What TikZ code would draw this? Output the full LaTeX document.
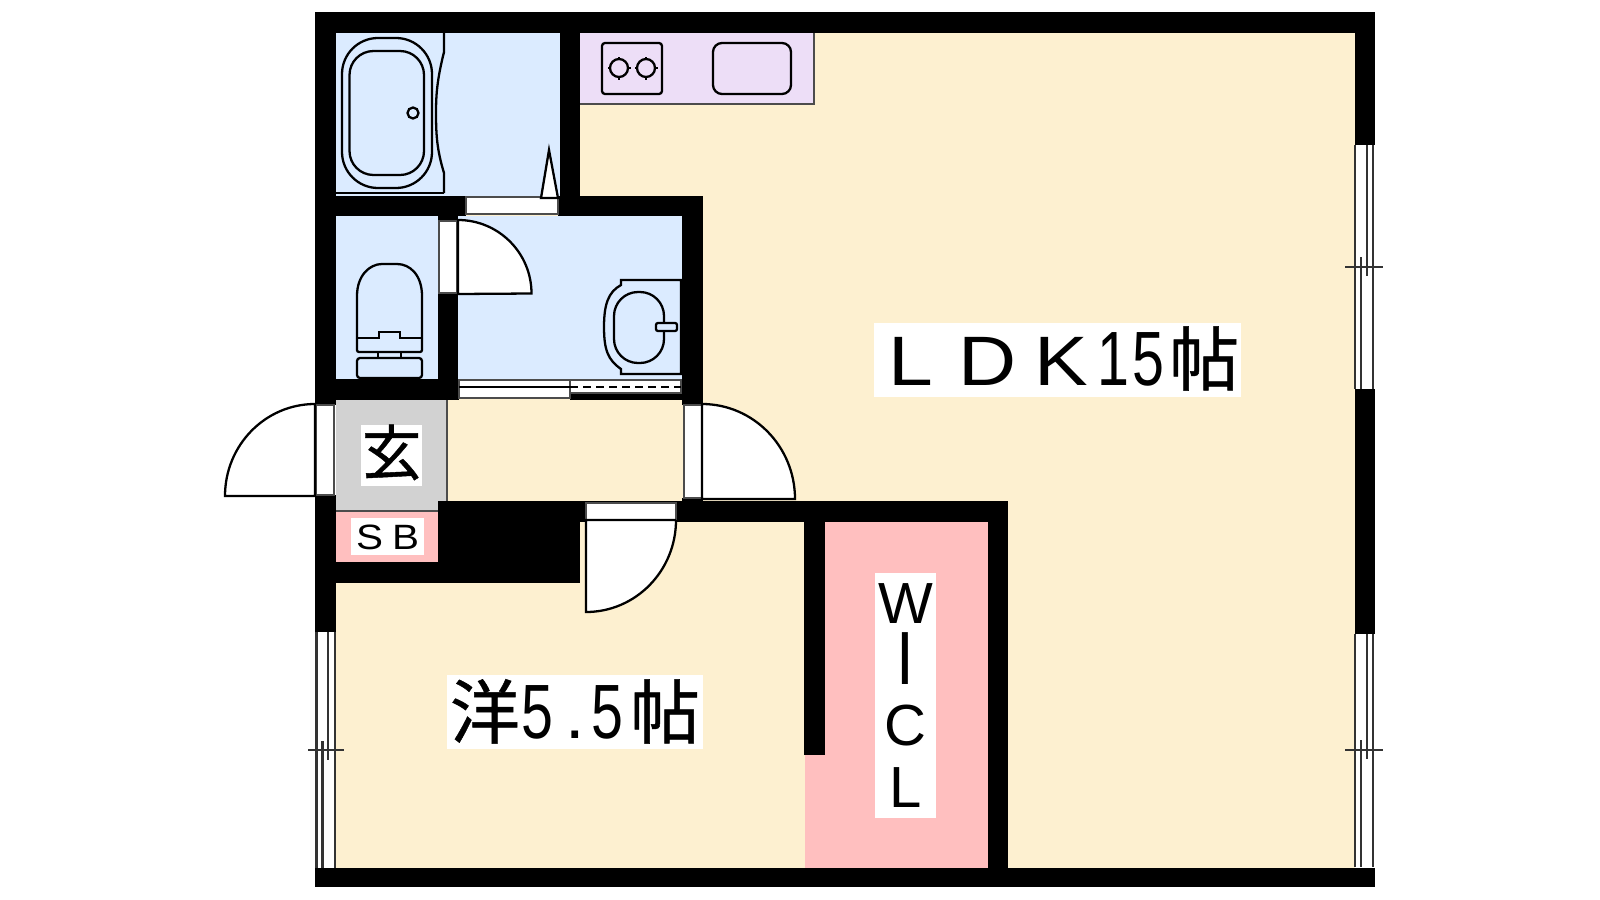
\documentclass[tikz,border=0pt]{standalone}
\usepackage{fontspec}
\setmainfont{Liberation Sans}
\newfontfamily\cjk[FakeBold=.7]{Noto Sans CJK JP}
\definecolor{roombeige}{HTML}{FDF0D0}
\definecolor{roomblue}{HTML}{DBEBFF}
\definecolor{roomlilac}{HTML}{EDDEF7}
\definecolor{roompink}{HTML}{FFBFBF}
\definecolor{roomgray}{HTML}{D2D2D2}
\newcommand{\cellw}[1]{\makebox[.7cm]{\scalebox{1.15}[1]{#1}}}
\newcommand{\cellh}[1]{\makebox[.35cm]{\scalebox{.82}[1.1]{#1}}}
\tikzset{
  wall/.style={fill=black},
  frame/.style={draw=black!70, fill=white, line width=.45pt},
  leaf/.style={draw=black, fill=white, line width=.65pt},
  fixture/.style={draw=black, line width=.65pt},
  sash/.style={draw=black!80, line width=.6pt},
  tag/.style={fill=white, inner sep=0pt, text=black},
}
\begin{document}
\begin{tikzpicture}[x=.01cm, y=-.01cm]
  \useasboundingbox (0,0) rectangle (1600,900);

  % rooms
  \fill [roombeige] (336,33) rectangle (1355,868);
  \fill [roomblue] (336,33) rectangle (560,196);
  \fill [roomblue] (336,216) rectangle (682,379);
  \fill [roomgray] (336,400) rectangle (447,511);
  \fill [roompink] (336,511) rectangle (438,562);
  \fill [roompink] (825,522) rectangle (988,868);
  \fill [roompink] (805,755) rectangle (825,868);
  \fill [roomlilac] (580,33) rectangle (814,104);
  \draw [black!70, line width=.45pt] (580,104) -- (814,104) -- (814,33);
  \draw [black!70, line width=.45pt] (447,400) -- (447,501);
  \draw [black!70, line width=.45pt] (336,511) -- (438,511);

  % walls
  \foreach \a/\b/\c/\d in {315/12/1375/33, 315/33/336/405, 315/495/336/632, 315/868/1375/887,
    1355/33/1375/145, 1355/389/1375/634, 560/33/580/216, 315/196/466/216, 558/196/703/216,
    438/216/458/221, 438/293/458/400, 336/379/459/400, 682/216/703/405, 570/393/682/400,
    682/498/703/501, 438/501/580/583, 336/562/580/583, 580/501/1008/522, 804/522/825/755,
    988/501/1008/868}
    \fill [wall] (\a,\b) rectangle (\c,\d);

  % openings
  \draw [frame] (466,197) rectangle (558,214);
  \draw [frame] (439,221) rectangle (457,293);
  \draw [frame] (316,405) rectangle (334,495);
  \draw [frame] (684,405) rectangle (702,498);
  \draw [frame] (586,503) rectangle (676,520);
  \draw [frame] (459,380) rectangle (570,398);
  \draw [frame] (570,380) rectangle (681,393);
  \draw [black, line width=.5pt] (459,387) -- (570,387);
  \draw [black, line width=.6pt, dash pattern=on 2.2pt off 1.5pt] (570,387) -- (681,387);

  % door leaves
  \draw [leaf] (458,294) -- (458,220) arc [start angle=-90, end angle=0, radius=73.5] -- cycle;
  \draw [leaf] (315,496) -- (315,404) arc [start angle=-90, end angle=-180, x radius=90, y radius=92] -- cycle;
  \draw [leaf] (702,499) -- (702,404) arc [start angle=-90, end angle=0, x radius=93, y radius=95] -- cycle;
  \draw [leaf] (676,520) -- (586,520) -- (586,612) arc [start angle=90, end angle=0, x radius=90, y radius=92];
  \draw [leaf] (541,198) -- (549,150) -- (558,198) -- cycle;

  % windows
  \foreach \u/\v/\m in {145/389/267, 634/867/750} {
    \fill [white] (1355,\u) rectangle (1374,\v);
    \draw [sash] (1355,\u) -- (1355,\v);
    \draw [sash] (1373,\u) -- (1373,\v);
    \draw [sash] (1367,\u) -- (1367,\m+9);
    \draw [sash] (1361,\m-10) -- (1361,\v);
    \draw [sash] (1345,\m) -- (1383,\m);
  }
  \fill [white] (316,632) rectangle (335,868);
  \draw [sash] (316.5,632) -- (316.5,868);
  \draw [sash] (335,632) -- (335,868);
  \draw [sash] (328,632) -- (328,760);
  \draw [sash] (322.5,741) -- (322.5,868);
  \draw [sash] (308,750) -- (344,750);

  % bath
  \draw [fixture, rounded corners=.36cm] (342,38) rectangle (432,188);
  \draw [fixture, rounded corners=.24cm] (349.5,51) rectangle (424,175);
  \draw [fixture] (413,113) circle [radius=5.5];
  \draw [fixture] (444,33) -- (444,52) .. controls (437,80) and (436,95) .. (436,113)
    .. controls (436,135) and (437,150) .. (444,173) -- (444,193);
  \draw [black, line width=.8pt] (336,193) -- (444,193);

  % kitchen
  \draw [fixture, rounded corners=.03cm] (602,43) rectangle (662,94);
  \draw [fixture, rounded corners=.09cm] (713,43) rectangle (791,94);
  \foreach \cx in {619,646} {
    \draw [fixture] (\cx,68) circle [radius=9];
    \foreach \n in {0,90,180,270} \draw [fixture] (\cx,68) ++(\n:8) -- ++(\n:3.5);
  }

  % toilet
  \draw [fixture] (357,338) -- (357,296) .. controls (357,275) and (370,264) .. (382,264)
    -- (397,264) .. controls (410,264) and (422,275) .. (422,296) -- (422,338);
  \draw [fixture, rounded corners=.02cm] (357,338) -- (357,352) -- (422,352) -- (422,338);
  \draw [fixture] (357,338) -- (379,338) -- (379,332) -- (400,332) -- (400,338) -- (422,338);
  \draw [fixture] (378,352) rectangle (401,358);
  \draw [fixture, rounded corners=.03cm] (357,358) rectangle (422,378);

  % basin
  \draw [fixture] (681,280) -- (621,280) -- (621,285) .. controls (608,292) and (604,305) .. (604,327)
    .. controls (604,350) and (608,360) .. (621,369) -- (621,374) -- (681,374) -- cycle;
  \draw [fixture, rounded corners=.24cm] (614,292) rectangle (664,363);
  \draw [fixture, fill=roomblue, rounded corners=.02cm] (656,323) rectangle (677,331);

  % labels
  \node [tag, minimum width=3.67cm, text height=.62cm, text depth=.12cm] (ldk) at (1057.5,360)
    {\fontsize{19.9}{24}\selectfont\cellw{L}\hspace{.07cm}\cellw{D}\hspace{.03cm}\cellw{K}\cellh{1}\cellh{5}\hspace{.03cm}\makebox[.7cm]{\cjk 帖}};
  \node [tag, minimum width=2.56cm, text height=.63cm, text depth=.11cm] (western) at (575,712)
    {\fontsize{19.9}{24}\selectfont\makebox[.7cm]{\cjk 洋}\cellh{5}\makebox[.35cm][l]{\hspace{.1cm}.}\cellh{5}\hspace{.05cm}\makebox[.7cm]{\cjk 帖}};
  \node [tag, minimum width=.61cm, text height=.5cm, text depth=.11cm] (genkan) at (391.5,455.5)
    {\fontsize{17}{20}\selectfont\cjk 玄};
  \node [tag, minimum width=.73cm, text height=.31cm, text depth=.06cm] (sb) at (387.5,536.5)
    {\fontsize{10}{12}\selectfont\makebox[.36cm]{\scalebox{1.15}[1]{S}}\makebox[.36cm]{\scalebox{1.15}[1]{B}}};
  \node [tag, minimum width=.61cm, minimum height=2.45cm, align=center,
    font=\fontsize{16.5}{17.36}\selectfont] (wcl) at (905.5,695.5)
    {W\\\scalebox{1.1}[1.3]{I}\\C\\L};
\end{tikzpicture}
\end{document}
